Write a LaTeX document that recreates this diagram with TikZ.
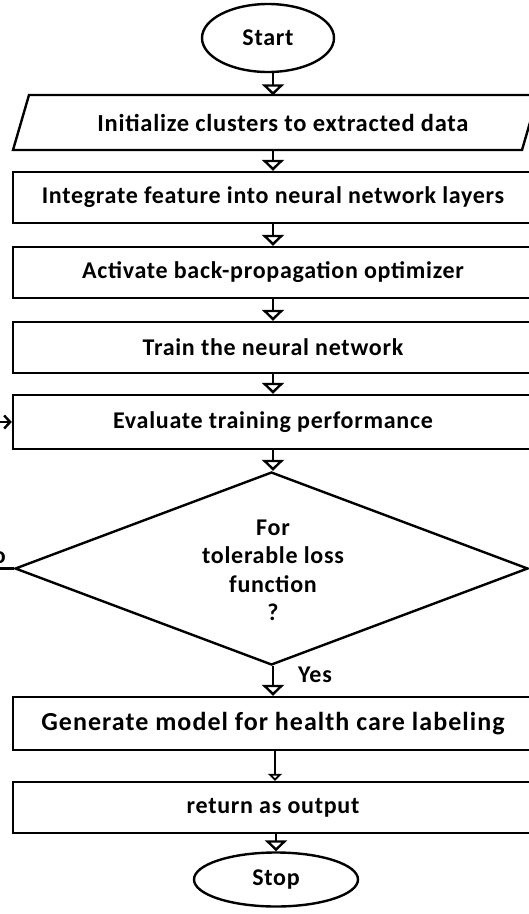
\documentclass[tikz,border=0pt]{standalone}
\usepackage{fontspec}
\setmainfont{Carlito}[LetterSpace=3]
\usetikzlibrary{shapes.geometric,arrows.meta}
\begin{document}
\begin{tikzpicture}[x=1pt,y=-1pt,
  every node/.style={font=\bfseries\fontsize{24}{28.5}\selectfont, inner sep=0pt},
  outline/.style={draw, line width=2.4pt},
  stepbox/.style={outline, minimum width=520pt, minimum height=51pt},
  terminal/.style={outline, ellipse},
  decision/.style={outline, diamond, minimum width=513pt, minimum height=193pt, align=center},
  flow/.style={line width=2.4pt, -{Triangle[open, width=22pt, length=11pt]}},
  smallflow/.style={line width=2.4pt, -{Triangle[open, width=14pt, length=7pt]}},
  backflow/.style={line width=2.4pt, -{Straight Barb[length=6pt, width=13pt]}}
]
\useasboundingbox (0,0) rectangle (529,914);

% terminals and process steps
\node[terminal, minimum width=132pt, minimum height=68pt] (start) at (268,38) {Start};
\node[minimum width=509pt, minimum height=55pt, font=\bfseries\fontsize{24.5}{28}\selectfont] (init) at (283,123) {Initialize clusters to extracted data};
\draw[outline] (13,150) -- (522,150) -- (538,95) -- (29,95) -- cycle;
\node[stepbox] (integ) at (273,197.5) {Integrate feature into neural network layers};
\node[stepbox] (activ) at (273,272.5) {Activate back-propagation optimizer};
\node[stepbox] (train) at (273,347.5) {Train the neural network};
\node[stepbox, minimum height=54pt] (eval) at (273,422) {Evaluate training performance};
\node[decision] (dia) at (271.5,568.5) {};
\node[align=center] (cond) at (273,570.5) {For\\tolerable loss\\function\\?};
\node[stepbox, minimum height=53pt, font=\bfseries\fontsize{26}{28}\selectfont\addfontfeature{LetterSpace=4}] (gen) at (273,723.5) {Generate model for health care labeling};
\node[stepbox] (ret) at (273,807.5) {return as output};
\node[terminal, minimum width=164pt, minimum height=54pt] (stop) at (276,879.5) {Stop};

% connectors
\draw[flow] (start.south -| integ.north) -- (integ.north |- init.north);
\draw[flow] (integ.north |- init.south) -- (integ.north);
\draw[flow] (integ.south) -- (activ.north);
\draw[flow] (activ.south) -- (train.north);
\draw[flow] (train.south) -- (eval.north);
\draw[flow] (eval.south) -- (eval.south |- dia.north);
\draw[flow] (eval.south |- dia.south) -- (gen.north) node[pos=0.3, anchor=west, xshift=24pt] (yes) {Yes};
\draw[smallflow] ([xshift=2pt]gen.south) -- ([xshift=2pt]ret.north);
\draw[flow] (ret.south -| stop.north) -- (stop.north);
\coordinate (loop) at (-30,568.5);
\draw[backflow] (dia.west) -- (loop) |- (eval.west);
\node[anchor=base east] (no) at (6,563) {No};
\end{tikzpicture}
\end{document}
